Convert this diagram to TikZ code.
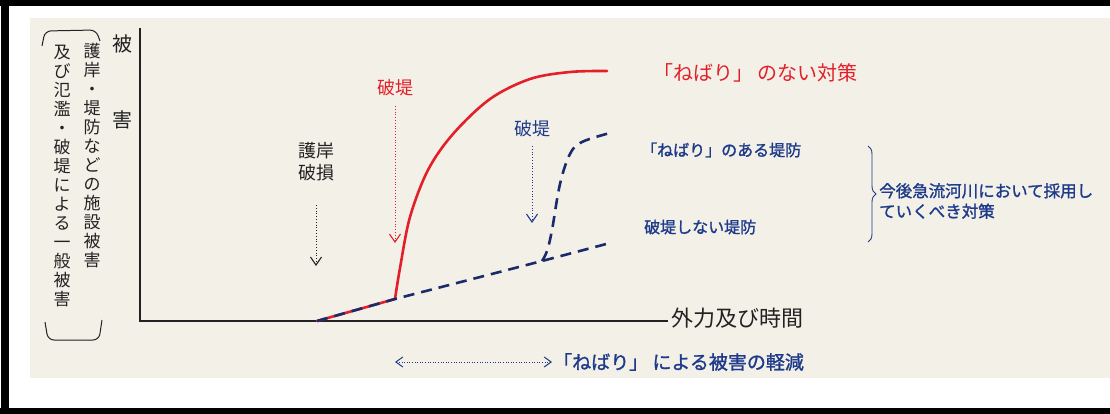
\documentclass[tikz,border=0pt]{standalone}
\usepackage{fontspec}
\setmainfont{Noto Sans CJK JP}
\newfontfamily\jpbold[FakeBold=1.3]{Noto Sans CJK JP}
\usetikzlibrary{arrows.meta,decorations.pathreplacing}
\definecolor{paper}{HTML}{F3F0E8}
\definecolor{redline}{HTML}{E3202A}
\definecolor{navy}{HTML}{1B2A6B}
\definecolor{bluetext}{HTML}{1E3A8A}
\definecolor{ink}{HTML}{222222}
\newcommand{\fs}[1]{\fontsize{#1}{#1}\selectfont}
\tikzset{
  lbl/.style={inner sep=0pt, text=ink},
  vcol/.style={inner sep=0pt, text=ink, align=center, font=\fontsize{17}{19}\selectfont},
  axisline/.style={line width=1.3pt, ink},
  redcurve/.style={line width=2.6pt, redline, line cap=round, line join=round},
  navydash/.style={line width=2.6pt, navy, dash pattern=on 11pt off 7pt, line join=round},
  dotarrow/.style={line width=0.8pt, dotted, -{Straight Barb[length=8pt,width=11pt,line width=1.1pt]}},
  bracketline/.style={line width=1pt, ink, rounded corners=6pt},
  frameband/.style={line width=8pt, black},
}
\begin{document}
\begin{tikzpicture}[x=1pt,y=-1pt]
\useasboundingbox (0,0) rectangle (1110,414);
\fill[white] (0,0) rectangle (1110,414);
\fill[paper] (30,18) rectangle (1110,378);

% axes
\coordinate (org) at (140,321);
\coordinate (ytop) at (140,28);
\coordinate (xend) at (668,321);
\draw[axisline] (ytop) -- (org) -- (xend);
\node[lbl, anchor=west, font=\fs{22}] (xlab) at (671,318) {外力及び時間};
\node[lbl, font=\fs{20}] (y1) at (122,44) {被};
\node[lbl, font=\fs{20}] (y2) at (122,120) {害};

% vertical labels
\node[vcol] (vc1) at (92,156) {護\\岸\\・\\堤\\防\\な\\ど\\の\\施\\設\\被\\害};
\node[vcol] (vc2) at (62,176) {及\\び\\氾\\濫\\・\\破\\堤\\に\\よ\\る\\一\\般\\被\\害};
\draw[bracketline] (42,46) -- (45,31) -- (96,30) -- (100,41);
\draw[bracketline] (45,322) -- (48,340) -- (99,340) -- (102,320);

% curves
\coordinate (s0) at (317,321);
\coordinate (k1) at (395,299);
\coordinate (k2) at (542,261);
\draw[redcurve] (s0) -- (k1) plot[smooth, tension=0.55] coordinates {(395,299) (400,268) (410,217) (428,170) (453,134) (490,99) (530,79) (570,72) (607,71)};
\draw[navydash] (s0) -- (k1) -- (k2) -- (610,243);
\draw[navydash] (k2) plot[smooth, tension=0.6] coordinates {(542,261) (547,251) (552,230) (560,184) (570,154) (582,142) (610,133)};

% event labels and arrows
\node[lbl, font=\fs{18}, align=center] (gogan) at (316,162) {護岸\\[4pt]破損};
\coordinate (a1s) at (316,205);
\coordinate (a1e) at (316,266);
\draw[dotarrow, ink] (a1s) -- (a1e);

\node[lbl, text=redline, font=\fs{18}] (hat1) at (395,88) {破堤};
\coordinate (a2s) at (395,106);
\coordinate (a2e) at (395,243);
\draw[dotarrow, redline] (a2s) -- (a2e);

\node[lbl, text=bluetext, font=\fs{18}] (hat2) at (532,129) {破堤};
\coordinate (a3s) at (532,146);
\coordinate (a3e) at (532,223);
\draw[dotarrow, bluetext] (a3s) -- (a3e);

% legend
\node[lbl, text=redline, font=\fs{20}, anchor=west] (leg1) at (653,73) {「ねばり」 のない対策};
\node[lbl, text=bluetext, font=\jpbold\fs{16}, anchor=west] (leg2) at (641,150) {「ねばり」のある堤防};
\node[lbl, text=bluetext, font=\jpbold\fs{16}, anchor=west] (leg3) at (644,227) {破堤しない堤防};
\coordinate (bt) at (868,146);
\coordinate (bb) at (868,242);
\draw[line width=0.9pt, bluetext, decorate, decoration={brace, amplitude=8pt}] (bt) -- (bb);
\node[lbl, text=bluetext, font=\jpbold\fs{16.5}, anchor=west, align=left] (adv) at (879,201) {今後急流河川において採用し\\[4pt]ていくべき対策};

% bottom arrow
\coordinate (b1) at (395,362);
\coordinate (b2) at (552,362);
\draw[line width=0.6pt, bluetext, dotted, {Straight Barb[length=7pt,width=10pt,line width=1pt]}-{Straight Barb[length=7pt,width=10pt,line width=1pt]}] (b1) -- (b2);
\node[lbl, text=bluetext, font=\jpbold\fs{19}, anchor=west] (btxt) at (553,362) {「ねばり」 による被害の軽減};

% frame
\coordinate (f1) at (5,0);
\coordinate (f2) at (5,414);
\coordinate (f3) at (0,3);
\coordinate (f4) at (1110,3);
\coordinate (f5) at (0,411);
\coordinate (f6) at (1110,411);
\draw[line width=6pt, black] (f3) -- (f4);
\draw[line width=6pt, black] (f5) -- (f6);
\draw[frameband] (f1) -- (f2);
\end{tikzpicture}
\end{document}
